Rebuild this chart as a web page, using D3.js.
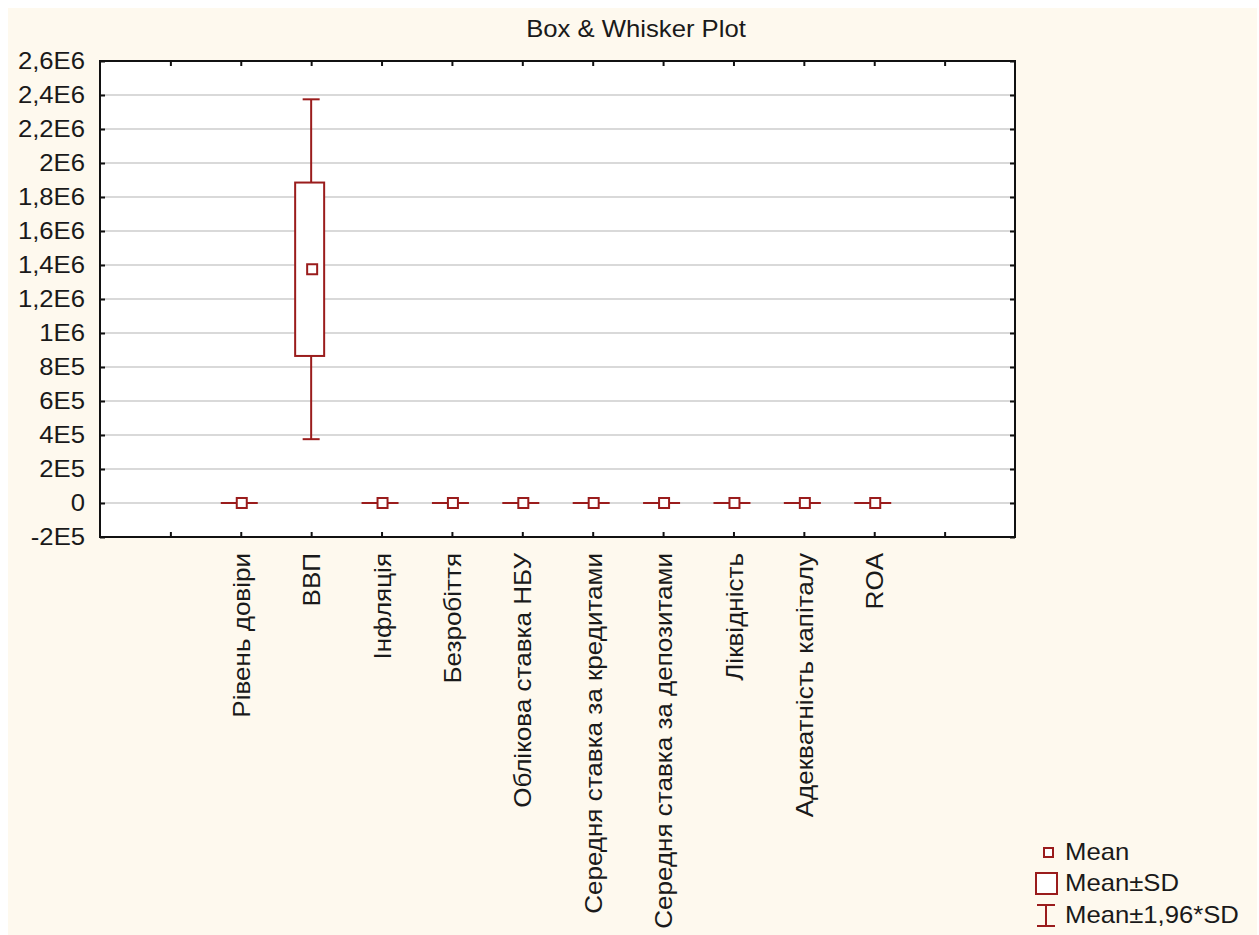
<!DOCTYPE html>
<html>
<head>
<meta charset="utf-8">
<script src="https://cdn.jsdelivr.net/npm/d3@7"></script>
<style>
  html, body { margin: 0; padding: 0; background: #ffffff; }
  svg { display: block; }
  text { font-family: "Liberation Sans", Arial, sans-serif; fill: #1a1a1a; }
</style>
</head>
<body>
<svg id="chart" width="1259" height="935"></svg>
<script>
// ---- data ----
const categories = ["Рівень довіри", "ВВП", "Інфляція", "Безробіття", "Облікова ставка НБУ",
  "Середня ставка за кредитами", "Середня ставка за депозитами", "Ліквідність",
  "Адекватність капіталу", "ROA"];
const means = [48, 1375000, 14, 8.5, 14, 18, 12, 90, 16, -1];
const sds   = [10, 510000, 12, 1.2, 6, 3, 4, 20, 3, 2];
const yTicks = [-200000, 0, 200000, 400000, 600000, 800000, 1000000, 1200000, 1400000,
  1600000, 1800000, 2000000, 2200000, 2400000, 2600000];
const yTickLabels = ["-2E5", "0", "2E5", "4E5", "6E5", "8E5", "1E6", "1,2E6", "1,4E6",
  "1,6E6", "1,8E6", "2E6", "2,2E6", "2,4E6", "2,6E6"];
const title = "Box & Whisker Plot";
const legendLabels = ["Mean", "Mean±SD", "Mean±1,96*SD"];
const k = 1.96;

// ---- layout ----
const W = 1259, H = 935;
const L = 100, T = 61, R = 1015, B = 537;
const red = "#9a1c1c";
const svg = d3.select("#chart");

svg.append("rect").attr("x", 8).attr("y", 8).attr("width", W - 10).attr("height", H - 8)
  .attr("fill", "#fef9ee");

const x = d3.scaleLinear().domain([0, categories.length + 3]).range([L, R]);
const y = d3.scaleLinear().domain([yTicks[0], yTicks[yTicks.length - 1]]).range([B, T]);

// plot background
svg.append("rect").attr("x", L).attr("y", T).attr("width", R - L).attr("height", B - T)
  .attr("fill", "#ffffff");

// gridlines
svg.append("g").selectAll("line").data(yTicks.slice(1, -1)).join("line")
  .attr("x1", L).attr("x2", R)
  .attr("y1", d => y(d)).attr("y2", d => y(d))
  .attr("stroke", "#d9d9d9").attr("stroke-width", 2);

// axes
const xTickVals = d3.range(1, categories.length + 3);
const fmtY = d => yTickLabels[yTicks.indexOf(d)];

const gl = svg.append("g").attr("transform", `translate(${L},0)`)
  .call(d3.axisLeft(y).tickValues(yTicks).tickFormat(fmtY).tickSize(-5).tickPadding(14));
gl.selectAll("text").attr("font-size", 24).attr("fill", "#1a1a1a")
  .attr("font-family", "Liberation Sans, Arial, sans-serif")
  .attr("transform", "scale(1.07,1)");

const gr = svg.append("g").attr("transform", `translate(${R},0)`)
  .call(d3.axisRight(y).tickValues(yTicks).tickFormat("").tickSize(-5));

const gt = svg.append("g").attr("transform", `translate(0,${T})`)
  .call(d3.axisTop(x).tickValues(xTickVals).tickFormat("").tickSize(-5));

const gb = svg.append("g").attr("transform", `translate(0,${B})`)
  .call(d3.axisBottom(x).tickValues(xTickVals)
    .tickFormat(d => categories[d - 2] || "").tickSize(-5));
gb.selectAll("text")
  .attr("font-size", 24).attr("fill", "#1a1a1a")
  .attr("font-family", "Liberation Sans, Arial, sans-serif")
  .attr("x", 0).attr("y", 0).attr("dy", "0.36em")
  .attr("text-anchor", "end")
  .attr("transform", "translate(0,16) rotate(-90) scale(1.085,1)");

[gl, gr, gt, gb].forEach(g => {
  g.select(".domain").remove();
  g.selectAll(".tick line").attr("stroke", "#111").attr("stroke-width", 2);
});

// frame
svg.append("rect").attr("x", L).attr("y", T).attr("width", R - L).attr("height", B - T)
  .attr("fill", "none").attr("stroke", "#111").attr("stroke-width", 2);

// boxes
const boxW = 29, capW = 17, meanS = 10;
const data = categories.map((c, i) => ({ c, i, m: means[i], s: sds[i] }));
const gBox = svg.append("g");
const items = gBox.selectAll("g").data(data).join("g")
  .attr("transform", d => `translate(${x(d.i + 2)},0)`);

// whiskers
items.append("line")
  .attr("x1", 0).attr("x2", 0)
  .attr("y1", d => y(d.m + k * d.s)).attr("y2", d => y(d.m + d.s))
  .attr("stroke", red).attr("stroke-width", 2);
items.append("line")
  .attr("x1", 0).attr("x2", 0)
  .attr("y1", d => y(d.m - d.s)).attr("y2", d => y(d.m - k * d.s))
  .attr("stroke", red).attr("stroke-width", 2);
items.append("line")
  .attr("x1", -capW / 2).attr("x2", capW / 2)
  .attr("y1", d => y(d.m + k * d.s)).attr("y2", d => y(d.m + k * d.s))
  .attr("stroke", red).attr("stroke-width", 2);
items.append("line")
  .attr("x1", -capW / 2).attr("x2", capW / 2)
  .attr("y1", d => y(d.m - k * d.s)).attr("y2", d => y(d.m - k * d.s))
  .attr("stroke", red).attr("stroke-width", 2);
// collapsed range line (when SD is tiny relative to scale)
items.filter(d => Math.abs(y(d.m - k * d.s) - y(d.m + k * d.s)) < 2).append("line")
  .attr("x1", -20).attr("x2", 17)
  .attr("y1", d => y(d.m)).attr("y2", d => y(d.m))
  .attr("stroke", red).attr("stroke-width", 2);
// box
items.append("rect")
  .attr("x", -boxW / 2 - 1.5).attr("width", boxW)
  .attr("y", d => y(d.m + d.s)).attr("height", d => y(d.m - d.s) - y(d.m + d.s))
  .attr("fill", "#ffffff").attr("stroke", red).attr("stroke-width", 2);
// mean
items.append("rect")
  .attr("x", -meanS / 2 + 1).attr("width", meanS)
  .attr("y", d => y(d.m) - meanS / 2).attr("height", meanS)
  .attr("fill", "#ffffff").attr("stroke", red).attr("stroke-width", 2);

// title
svg.append("text").attr("x", 0).attr("y", 0).attr("text-anchor", "middle")
  .attr("font-size", 24)
  .attr("transform", "translate(636,37) scale(1.07,1)")
  .text(title);

// legend
const lg = svg.append("g");
lg.append("rect").attr("x", 1044).attr("y", 848).attr("width", 9).attr("height", 9)
  .attr("fill", "#fff").attr("stroke", red).attr("stroke-width", 2);
lg.append("rect").attr("x", 1036).attr("y", 873).attr("width", 21).attr("height", 21)
  .attr("fill", "#fff").attr("stroke", red).attr("stroke-width", 2);
lg.append("line").attr("x1", 1046).attr("x2", 1046).attr("y1", 905).attr("y2", 926)
  .attr("stroke", red).attr("stroke-width", 2);
lg.append("line").attr("x1", 1037).attr("x2", 1055).attr("y1", 905).attr("y2", 905)
  .attr("stroke", red).attr("stroke-width", 2);
lg.append("line").attr("x1", 1037).attr("x2", 1055).attr("y1", 926).attr("y2", 926)
  .attr("stroke", red).attr("stroke-width", 2);
const legY = [852, 883, 915];
legendLabels.forEach((t, i) => {
  lg.append("text").attr("x", 0).attr("y", 0).attr("dy", "0.35em")
    .attr("font-size", 24)
    .attr("transform", `translate(1065,${legY[i]}) scale(1.07,1)`)
    .text(t);
});
</script>
</body>
</html>
